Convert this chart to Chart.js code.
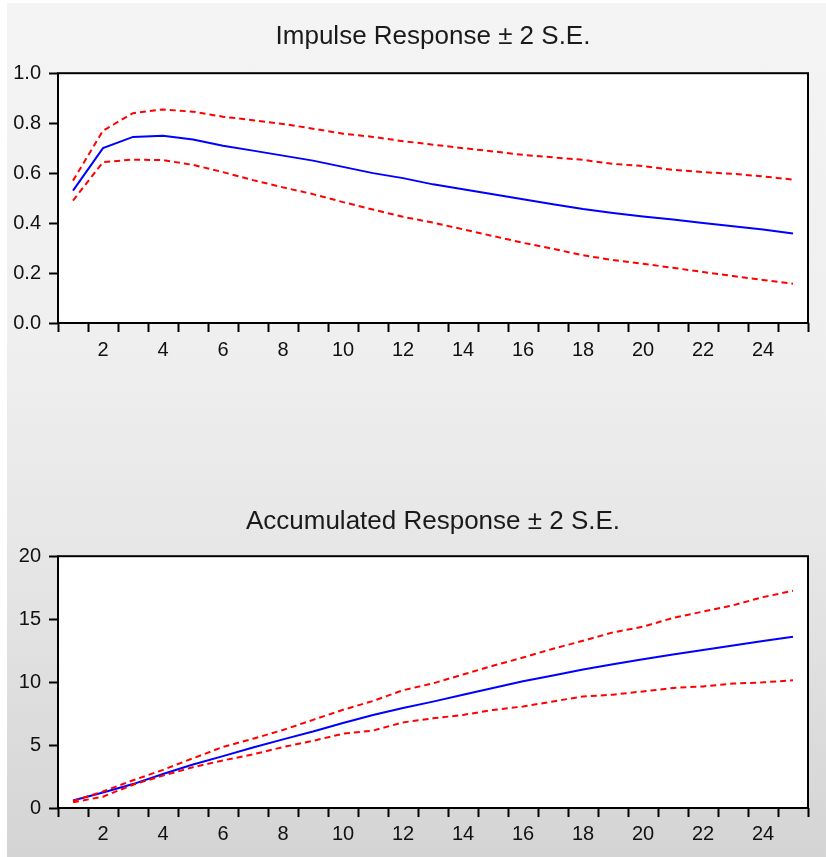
<!DOCTYPE html>
<html>
<head>
<meta charset="utf-8">
<script src="https://cdn.jsdelivr.net/npm/chart.js@4.4.1/dist/chart.umd.min.js"></script>
<style>
    body { margin: 0; background: #ffffff; }
    #page {
        position: absolute; left: 7px; top: 3px; width: 819px; height: 854px;
        background: linear-gradient(to bottom, #f4f4f4 0%, #efefef 40%, #e6e6e6 65%, #d4d4d4 100%);
    }
    canvas { position: absolute; left: 0; }
</style>
</head>
<body>
<div id="page">
    <canvas id="impulseChart" width="819" height="380" style="top:0px"></canvas>
    <canvas id="accumChart" width="819" height="377" style="top:477px"></canvas>
</div>
<script>
// periods on the x axis
const periods = ["1","2","3","4","5","6","7","8","9","10","11","12","13","14","15","16","17","18","19","20","21","22","23","24","25"];

// Impulse response and +/- 2 S.E. bands
const impulse = [0.53, 0.70, 0.745, 0.75, 0.735, 0.71, 0.69, 0.67, 0.65, 0.625, 0.60, 0.58, 0.555, 0.535, 0.515, 0.495, 0.475, 0.456, 0.44, 0.426, 0.414, 0.40, 0.387, 0.374, 0.358];
const impulseUpper = [0.57, 0.77, 0.84, 0.855, 0.846, 0.826, 0.812, 0.797, 0.778, 0.758, 0.745, 0.728, 0.714, 0.70, 0.687, 0.673, 0.663, 0.653, 0.637, 0.628, 0.613, 0.604, 0.597, 0.587, 0.574];
const impulseLower = [0.49, 0.644, 0.654, 0.652, 0.633, 0.604, 0.572, 0.543, 0.516, 0.484, 0.454, 0.425, 0.402, 0.375, 0.348, 0.321, 0.297, 0.271, 0.252, 0.237, 0.221, 0.204, 0.188, 0.172, 0.157];

// Accumulated response and +/- 2 S.E. bands
const accum = [0.6, 1.23, 1.9, 2.7, 3.45, 4.12, 4.8, 5.45, 6.07, 6.75, 7.38, 7.95, 8.45, 9.0, 9.53, 10.07, 10.52, 11.0, 11.42, 11.82, 12.2, 12.55, 12.9, 13.27, 13.6];
const accumUpper = [0.56, 1.31, 2.2, 3.03, 3.95, 4.85, 5.5, 6.2, 7.0, 7.8, 8.5, 9.35, 9.9, 10.6, 11.3, 11.95, 12.65, 13.28, 13.95, 14.4, 15.1, 15.6, 16.1, 16.75, 17.25];
const accumLower = [0.45, 0.9, 1.85, 2.57, 3.24, 3.78, 4.26, 4.84, 5.33, 5.9, 6.15, 6.8, 7.12, 7.39, 7.79, 8.06, 8.46, 8.86, 9.0, 9.26, 9.53, 9.66, 9.88, 9.98, 10.14];

// y axis tick settings
const impulseTicks = { min: 0, max: 1, step: 0.2, digits: 1 };
const accumTicks = { min: 0, max: 20, step: 5, digits: 0 };

Chart.defaults.font.family = "'Liberation Sans', Arial, sans-serif";
Chart.defaults.font.size = 20;
Chart.defaults.color = "#111111";

// white plot area with a black frame
const framePlugin = {
    id: "frame",
    beforeDraw: (chart) => {
        const a = chart.chartArea;
        chart.ctx.save();
        chart.ctx.fillStyle = "#ffffff";
        chart.ctx.fillRect(a.left, a.top, a.right - a.left, a.bottom - a.top);
        chart.ctx.restore();
    },
    afterDraw: (chart) => {
        const a = chart.chartArea;
        const ctx = chart.ctx;
        ctx.save();
        ctx.strokeStyle = "#000000";
        ctx.lineWidth = 2;
        ctx.strokeRect(a.left, a.top, a.right - a.left, a.bottom - a.top);
        ctx.restore();
    }
};

const makeChart = (canvasId, title, mid, upper, lower, yTicks, titlePad, xHeight, xPad) => {
    const ctx = document.getElementById(canvasId).getContext("2d");
    const band = {
        borderColor: "#ff0000",
        borderWidth: 2,
        borderDash: [6, 4],
        pointRadius: 0,
        tension: 0,
        fill: false
    };
    return new Chart(ctx, {
        type: "line",
        data: {
            labels: periods,
            datasets: [
                { label: "upper", data: upper, ...band },
                { label: "lower", data: lower, ...band },
                { label: "response", data: mid, borderColor: "#0000ff", borderWidth: 2, pointRadius: 0, tension: 0, fill: false }
            ]
        },
        options: {
            responsive: false,
            animation: false,
            layout: { padding: { left: 0, right: 18, top: 0, bottom: 0 } },
            plugins: {
                legend: { display: false },
                tooltip: { enabled: false },
                title: {
                    display: true,
                    fullSize: false, // center over the plot area
                    text: title,
                    color: "#1a1a1a",
                    font: { size: 26, weight: "normal" },
                    padding: titlePad
                }
            },
            scales: {
                x: {
                    offset: true,
                    border: { display: false },
                    grid: {
                        offset: true,
                        drawOnChartArea: false,
                        drawTicks: true,
                        tickLength: 9,
                        tickWidth: 2,
                        tickColor: "#000000",
                        color: "#000000"
                    },
                    ticks: {
                        autoSkip: false,
                        maxRotation: 0,
                        padding: xPad,
                        callback: function (value) {
                            const lab = this.getLabelForValue(value);
                            return Number(lab) % 2 === 0 ? lab : "";
                        }
                    },
                    afterFit: (scale) => { scale.height = xHeight; }
                },
                y: {
                    min: yTicks.min,
                    max: yTicks.max,
                    border: { display: false },
                    grid: {
                        drawOnChartArea: false,
                        drawTicks: true,
                        tickLength: 9,
                        tickWidth: 2,
                        tickColor: "#000000",
                        color: "#000000"
                    },
                    ticks: {
                        stepSize: yTicks.step,
                        padding: 8,
                        callback: (value) => value.toFixed(yTicks.digits)
                    },
                    afterFit: (scale) => { scale.width = 51; }
                }
            }
        },
        plugins: [framePlugin]
    });
};

makeChart("impulseChart", "Impulse Response \u00b1 2 S.E.", impulse, impulseUpper, impulseLower,
    impulseTicks, { top: 18, bottom: 21 }, 60, 6);
makeChart("accumChart", "Accumulated Response \u00b1 2 S.E.", accum, accumUpper, accumLower,
    accumTicks, { top: 26, bottom: 19 }, 49, 5);
</script>
</body>
</html>
